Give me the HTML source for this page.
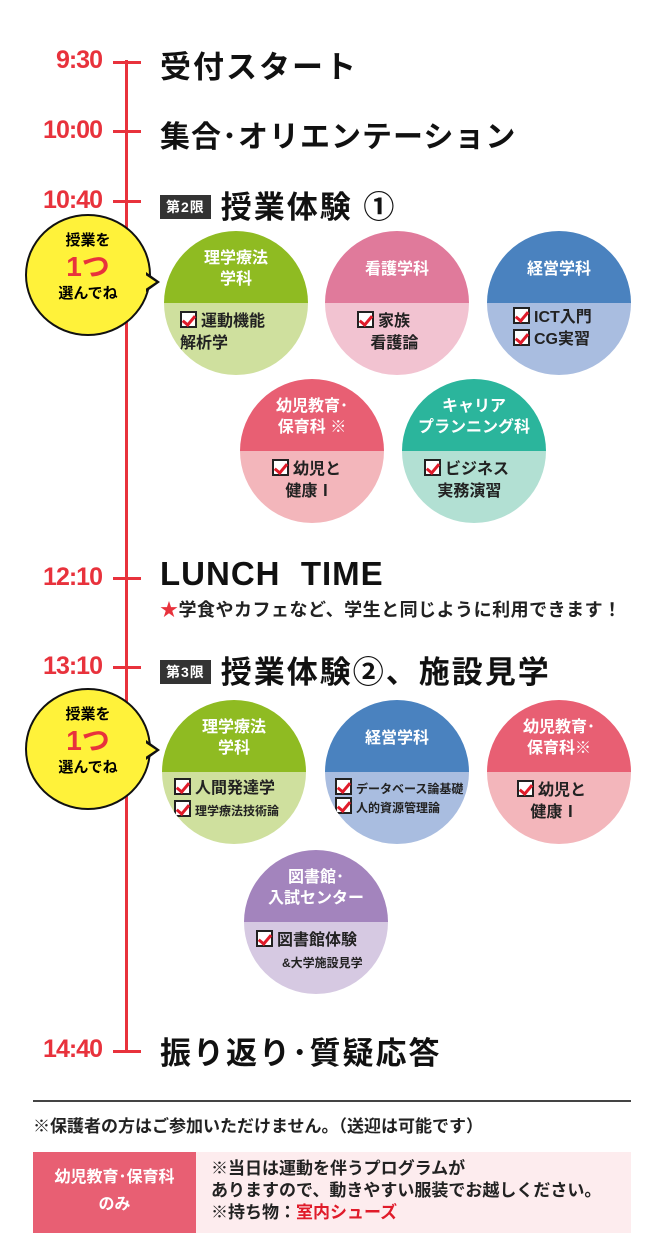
<!DOCTYPE html>
<html><head><meta charset="utf-8"><style>
*{margin:0;padding:0;box-sizing:border-box}
body{width:664px;height:1256px;background:#fff;position:relative;overflow:hidden;font-family:"Liberation Sans","Noto Sans CJK JP",sans-serif}
.a{position:absolute}
.t{position:absolute;color:#e8323c;font-weight:bold;font-size:25px;letter-spacing:-1px;text-align:right;width:102px;left:0}
.tick{position:absolute;left:113px;width:28px;height:3px;background:#e8323c}
.h{position:absolute;left:160px;font-size:31px;font-weight:bold;color:#111;letter-spacing:2px;white-space:nowrap}
.c{position:absolute;width:144px;height:144px;border-radius:50%;overflow:hidden;font-weight:bold}
.c .top{height:72px;color:#fff;font-size:16px;text-align:center;display:flex;align-items:center;justify-content:center;line-height:1.3;padding-top:6px}
.c .bot{height:72px;font-size:16px;color:#222;padding:8px 0 0 16px;line-height:1.35}
.cb{display:inline-block;width:17px;height:17px;border:2px solid #222;background:#fff;vertical-align:-2px;margin-right:4px;position:relative}
.cb:after{content:"";position:absolute;left:3px;top:0px;width:5px;height:10px;border:solid #e01b2a;border-width:0 3px 3px 0;transform:rotate(40deg)}
.badge{display:inline-block;background:#333;color:#fff;font-size:14px;padding:2px 6px;letter-spacing:1px;vertical-align:6px;margin-right:10px}
.bub{position:absolute;width:126px;height:122px;border-radius:50%;background:#fff23a;border:2px solid #111;text-align:center;font-weight:bold;font-size:15px;line-height:1.5;padding-top:14px}
</style></head><body>
<div class="a" style="left:125px;top:60px;width:3px;height:992px;background:#e8323c"></div>

<div class="t" style="top:46px">9:30</div><div class="tick" style="top:61px"></div>
<div class="h" style="top:42px">受付スタート</div>
<div class="t" style="top:116px">10:00</div><div class="tick" style="top:130px"></div>
<div class="h" style="top:112px;font-size:30px;letter-spacing:1px">集合･オリエンテーション</div>
<div class="t" style="top:186px">10:40</div><div class="tick" style="top:200px"></div>
<div class="h" style="top:182px"><span class="badge">第2限</span>授業体験 ①</div>

<div class="bub" style="left:25px;top:214px">授業を<br><span style="color:#e8323c;font-size:28px;line-height:1">1つ</span><br>選んでね</div>
<div class="a" style="left:146px;top:272px;width:0;height:0;border-left:14px solid #111;border-top:10px solid transparent;border-bottom:10px solid transparent"></div>
<div class="a" style="left:144px;top:274px;width:0;height:0;border-left:12px solid #fff23a;border-top:8px solid transparent;border-bottom:8px solid transparent"></div>

<div class="c" style="left:164px;top:231px"><div class="top" style="background:#8fbb22">理学療法<br>学科</div><div class="bot" style="background:#cfe09e"><span class="cb"></span>運動機能<br>解析学</div></div>
<div class="c" style="left:325px;top:231px"><div class="top" style="background:#e07a9b">看護学科</div><div class="bot" style="background:#f2c3d1;padding-left:32px"><span class="cb"></span>家族<br>&nbsp;&nbsp;&nbsp;看護論</div></div>
<div class="c" style="left:487px;top:231px"><div class="top" style="background:#4a82bf">経営学科</div><div class="bot" style="background:#a9bde0;padding-left:26px;padding-top:4px"><span class="cb"></span>ICT入門<br><span class="cb"></span>CG実習</div></div>
<div class="c" style="left:240px;top:379px"><div class="top" style="background:#e85f73">幼児教育･<br>保育科 ※</div><div class="bot" style="background:#f3b6bb;padding-left:32px"><span class="cb"></span>幼児と<br>&nbsp;&nbsp;&nbsp;健康Ⅰ</div></div>
<div class="c" style="left:402px;top:379px"><div class="top" style="background:#2bb59c">キャリア<br>プランニング科</div><div class="bot" style="background:#b2e0d3;padding-left:22px"><span class="cb"></span>ビジネス<br>&nbsp;&nbsp;&nbsp;実務演習</div></div>

<div class="t" style="top:563px">12:10</div><div class="tick" style="top:577px"></div>
<div class="h" style="top:555px;font-size:33px;letter-spacing:1px">LUNCH&nbsp; TIME</div>
<div class="a" style="left:160px;top:596px;font-size:18px;font-weight:bold;color:#222;white-space:nowrap;letter-spacing:0.5px"><span style="color:#e8323c">★</span>学食やカフェなど、学生と同じように利用できます！</div>

<div class="t" style="top:652px">13:10</div><div class="tick" style="top:666px"></div>
<div class="h" style="top:647px"><span class="badge">第3限</span>授業体験②、施設見学</div>

<div class="bub" style="left:25px;top:688px">授業を<br><span style="color:#e8323c;font-size:28px;line-height:1">1つ</span><br>選んでね</div>
<div class="a" style="left:146px;top:740px;width:0;height:0;border-left:14px solid #111;border-top:10px solid transparent;border-bottom:10px solid transparent"></div>
<div class="a" style="left:144px;top:742px;width:0;height:0;border-left:12px solid #fff23a;border-top:8px solid transparent;border-bottom:8px solid transparent"></div>

<div class="c" style="left:162px;top:700px"><div class="top" style="background:#8fbb22">理学療法<br>学科</div><div class="bot" style="background:#cfe09e;padding-left:12px;padding-top:6px"><span class="cb"></span>人間発達学<br><span class="cb"></span><span style="font-size:12px">理学療法技術論</span></div></div>
<div class="c" style="left:325px;top:700px"><div class="top" style="background:#4a82bf">経営学科</div><div class="bot" style="background:#a9bde0;padding-left:10px;padding-top:6px;font-size:12px"><span class="cb"></span>データベース論基礎<br><span class="cb"></span>人的資源管理論</div></div>
<div class="c" style="left:487px;top:700px"><div class="top" style="background:#e85f73">幼児教育･<br>保育科※</div><div class="bot" style="background:#f3b6bb;padding-left:30px"><span class="cb"></span>幼児と<br>&nbsp;&nbsp;&nbsp;健康Ⅰ</div></div>
<div class="c" style="left:244px;top:850px"><div class="top" style="background:#a384bd">図書館･<br>入試センター</div><div class="bot" style="background:#d6c9e2;padding-left:12px"><span class="cb"></span>図書館体験<br><span style="font-size:12px;padding-left:26px">&amp;大学施設見学</span></div></div>

<div class="t" style="top:1035px">14:40</div><div class="tick" style="top:1050px"></div>
<div class="h" style="top:1028px">振り返り･質疑応答</div>

<div class="a" style="left:33px;top:1100px;width:598px;height:2px;background:#444"></div>
<div class="a" style="left:33px;top:1112px;font-size:17px;font-weight:bold;color:#222;white-space:nowrap">※保護者の方はご参加いただけません。（送迎は可能です）</div>
<div class="a" style="left:33px;top:1152px;width:163px;height:81px;background:#e85f73;color:#fff;font-size:16px;font-weight:bold;text-align:center;line-height:1.7;padding-top:12px">幼児教育･保育科<br>のみ</div>
<div class="a" style="left:196px;top:1152px;width:435px;height:81px;background:#fdecee;font-size:17px;font-weight:bold;color:#222;line-height:1.3;padding:6px 0 0 15px;white-space:nowrap">※当日は運動を伴うプログラムが<br>ありますので、動きやすい服装でお越しください。<br>※持ち物：<span style="color:#e01b2a">室内シューズ</span></div>
</body></html>
